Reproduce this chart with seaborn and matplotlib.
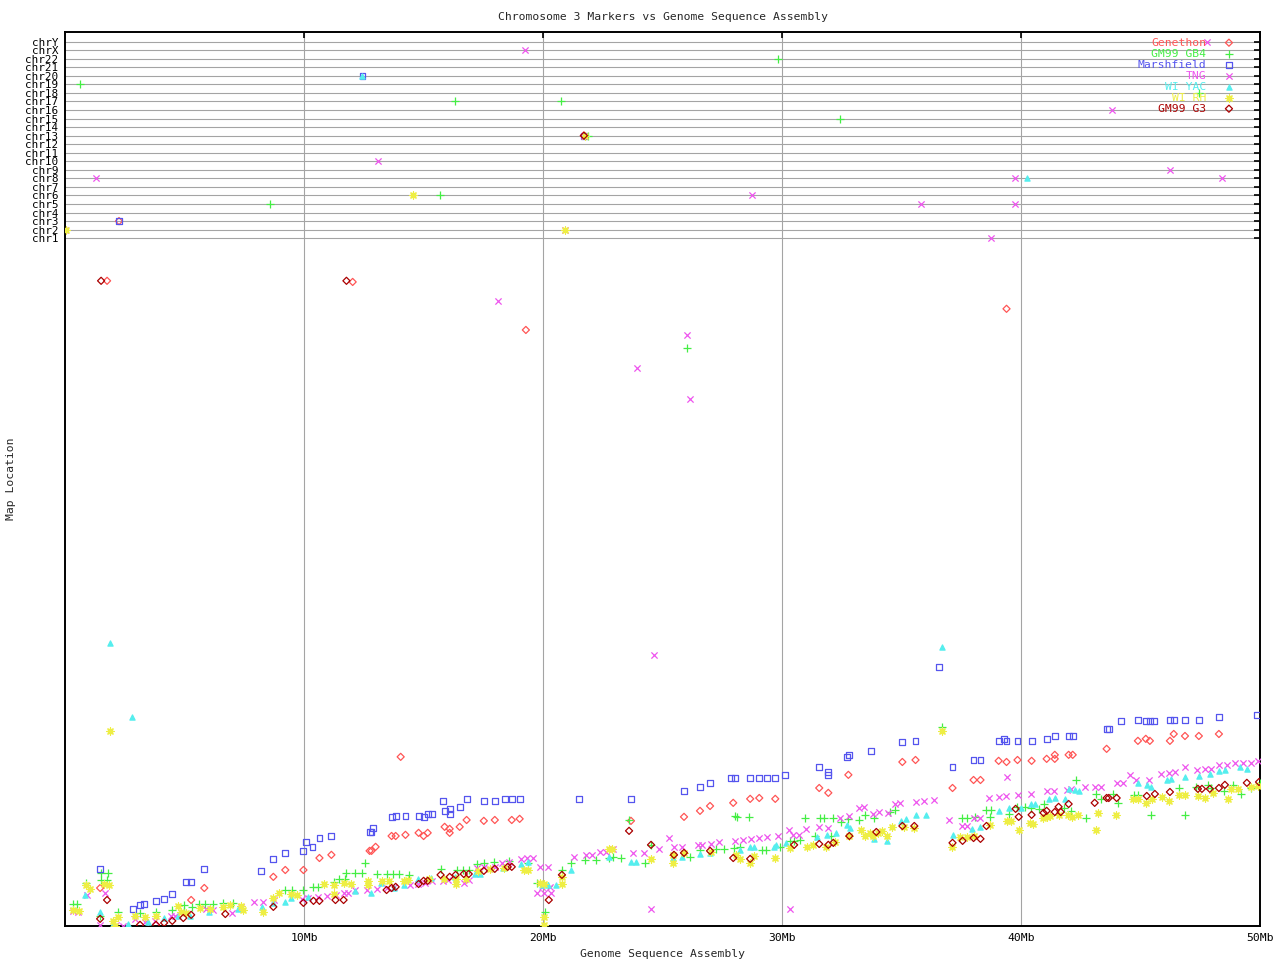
import matplotlib
matplotlib.use("Agg")
import matplotlib.pyplot as plt
import seaborn as sns
import pandas as pd

# ---------------- data ----------------
chrom_rows = ["chr1", "chr2", "chr3", "chr4", "chr5", "chr6", "chr7", "chr8", "chr9", "chr10",
              "chr11", "chr12", "chr13", "chr14", "chr15", "chr16", "chr17", "chr18", "chr19",
              "chr20", "chr21", "chr22", "chrX", "chrY"]
x_ticks_mb = [10, 20, 30, 40, 50]
x_tick_labels = ["10Mb", "20Mb", "30Mb", "40Mb", "50Mb"]
series_names = ["Genethon", "GM99 GB4", "Marshfield", "TNG", "WI YAC", "WI RH", "GM99 G3"]

# (sequence position Mb, chr3 map location)
genethon = [(1.45, 13.3), (5.81, 13.3), (5.26, 9.1), (8.70, 17.2), (9.20, 19.6), (9.96, 19.6),
            (10.63, 23.8), (11.13, 24.9), (12.73, 26.3), (12.81, 26.3), (12.98, 27.7), (13.65, 31.5),
            (13.82, 31.5), (14.23, 31.9), (14.78, 32.6), (14.99, 31.5), (15.16, 32.6), (15.87, 34.7),
            (16.08, 34.0), (16.08, 32.6), (16.50, 34.7), (16.79, 37.1), (17.51, 36.8), (17.97, 37.1),
            (18.68, 37.1), (19.01, 37.5), (23.67, 36.8), (25.89, 38.2), (26.56, 40.3), (26.98, 42.0),
            (27.95, 43.1), (28.66, 44.5), (29.04, 44.8), (29.71, 44.5), (31.55, 48.3), (31.93, 46.6),
            (32.77, 52.9), (35.03, 57.4), (35.58, 58.1), (37.13, 48.3), (38.01, 51.1), (38.30, 51.1),
            (39.06, 57.8), (39.39, 57.4), (39.85, 58.1), (40.44, 57.8), (41.07, 58.5), (41.41, 59.9),
            (41.41, 58.5), (41.99, 59.9), (42.16, 59.9), (43.58, 62.0), (44.89, 64.8), (45.22, 65.5),
            (45.39, 64.8), (46.23, 64.8), (46.39, 67.2), (46.86, 66.5), (47.44, 66.5), (48.28, 67.2),
            (14.03, 59.2), (39.39, 216.0), (1.74, 225.8), (12.02, 225.4), (19.27, 208.6)]

gm99_gb4 = [(0.31, 7.7), (0.48, 7.7), (0.86, 15.1), (1.49, 18.6), (1.78, 18.6), (1.49, 16.1),
            (1.74, 16.1), (1.45, 3.5), (2.20, 4.9), (3.12, 4.6), (3.79, 4.9), (4.47, 5.6), (4.97, 7.4),
            (4.97, 5.3), (5.30, 6.7), (5.60, 7.7), (5.85, 7.7), (6.18, 7.7), (6.60, 8.1), (7.02, 8.1),
            (9.20, 12.6), (9.50, 12.6), (9.96, 12.6), (10.38, 13.7), (10.55, 13.7), (11.22, 15.4),
            (11.43, 16.5), (11.68, 16.5), (11.76, 18.6), (12.10, 18.6), (12.43, 18.6), (12.52, 22.1),
            (13.06, 18.2), (13.44, 18.2), (13.69, 18.2), (13.94, 18.2), (14.36, 17.9), (15.70, 20.0),
            (16.37, 19.6), (16.62, 19.6), (16.88, 19.6), (17.21, 21.7), (17.51, 22.1), (17.92, 22.4),
            (18.55, 22.8), (19.35, 22.1), (19.73, 15.1), (20.06, 4.9), (20.19, 14.0), (20.78, 19.6),
            (21.15, 22.1), (21.74, 23.1), (22.20, 23.1), (22.75, 23.8), (22.92, 24.2), (23.25, 23.8),
            (23.59, 37.1), (24.26, 22.1), (24.51, 28.4), (26.14, 24.2), (26.56, 26.6), (27.23, 27.0),
            (27.55, 27.0), (27.99, 27.3), (28.24, 27.7), (28.03, 38.5), (28.11, 38.2), (28.62, 38.2),
            (29.16, 26.6), (29.33, 26.6), (29.92, 27.7), (30.34, 29.8), (30.50, 29.8), (30.75, 30.1),
            (30.96, 37.8), (31.38, 31.5), (31.59, 37.8), (31.76, 37.8), (32.05, 31.5), (32.14, 37.8),
            (32.47, 36.4), (32.77, 37.5), (33.23, 37.1), (33.48, 38.9), (33.86, 37.8), (34.53, 39.9),
            (34.74, 40.6), (36.67, 69.7), (37.51, 37.8), (37.72, 37.8), (38.09, 38.2), (38.55, 40.6),
            (38.72, 40.6), (38.68, 38.2), (39.48, 39.2), (39.81, 41.7), (40.15, 41.7), (40.40, 41.3),
            (40.73, 41.0), (40.94, 42.7), (41.78, 41.3), (42.08, 40.3), (42.28, 51.1), (42.70, 37.8),
            (43.12, 46.2), (43.33, 44.5), (43.84, 46.2), (44.05, 43.1), (44.72, 45.9), (44.89, 45.9),
            (45.43, 38.9), (46.60, 48.3), (46.86, 38.9), (47.32, 48.7), (47.82, 49.4), (47.95, 48.3),
            (48.49, 47.3), (48.87, 49.4), (49.20, 46.2), (49.62, 48.3), (49.98, 50.1), (26.02, 202.3)]

marshfield = [(1.45, 20.0), (5.81, 20.0), (5.05, 15.4), (5.26, 15.4), (4.47, 11.2), (4.13, 9.5),
              (3.79, 8.8), (3.12, 7.4), (3.29, 7.7), (2.83, 6.0), (8.20, 19.3), (8.70, 23.5),
              (9.20, 25.6), (9.96, 26.3), (10.08, 29.4), (10.34, 27.7), (10.63, 30.8), (11.13, 31.5),
              (12.73, 32.9), (12.89, 34.3), (12.81, 32.9), (13.65, 38.2), (13.82, 38.5), (14.23, 38.5),
              (14.78, 38.5), (14.99, 38.2), (15.16, 39.2), (15.33, 39.2), (15.79, 43.8), (15.87, 40.3),
              (16.08, 41.0), (16.08, 39.2), (16.50, 41.7), (16.79, 44.5), (17.51, 43.8), (17.97, 43.8),
              (18.39, 44.5), (18.68, 44.5), (19.01, 44.5), (21.49, 44.5), (23.67, 44.5), (25.89, 47.3),
              (26.56, 48.7), (26.98, 50.1), (27.86, 51.8), (28.03, 51.8), (28.66, 51.8), (29.04, 51.8),
              (29.37, 51.8), (29.71, 51.8), (30.13, 52.9), (31.55, 55.7), (31.93, 53.9), (31.93, 52.9),
              (32.73, 59.2), (32.81, 59.9), (33.73, 61.3), (35.03, 64.4), (35.58, 64.8), (37.13, 55.7),
              (38.01, 58.1), (38.30, 58.1), (39.06, 64.8), (39.27, 65.5), (39.39, 64.8), (39.85, 64.8),
              (40.44, 64.8), (41.07, 65.5), (41.41, 66.5), (41.99, 66.5), (42.16, 66.5), (43.58, 69.0),
              (43.67, 69.0), (44.17, 71.8), (44.89, 72.1), (45.22, 71.8), (45.39, 71.8), (45.56, 71.8),
              (46.23, 72.1), (46.39, 72.1), (46.86, 72.1), (47.44, 72.1), (48.28, 73.2), (49.87, 73.9),
              (36.58, 90.7)]

tng = [(0.31, 5.3), (0.52, 4.9), (0.90, 10.9), (1.66, 11.6), (1.45, 0.4), (2.12, 0.4), (2.41, 0.1),
       (2.91, 2.5), (3.33, 1.4), (3.75, 1.8), (4.42, 3.5), (4.59, 3.5), (5.89, 6.0), (6.18, 5.6),
       (6.98, 4.6), (7.36, 6.7), (7.90, 8.4), (8.28, 8.4), (8.74, 9.1), (9.92, 9.5), (10.17, 9.8),
       (10.55, 10.2), (10.96, 10.5), (11.34, 10.9), (11.64, 11.6), (11.84, 11.6), (12.10, 12.6),
       (12.60, 12.6), (13.02, 13.0), (13.44, 13.3), (13.73, 13.7), (14.44, 14.4), (14.74, 14.7),
       (15.03, 15.1), (15.33, 15.8), (15.79, 15.8), (16.00, 16.1), (16.67, 15.1), (16.88, 16.1),
       (17.21, 20.3), (17.51, 20.7), (17.72, 20.0), (17.97, 20.7), (18.26, 22.1), (18.55, 22.4),
       (19.06, 23.5), (19.31, 23.8), (19.56, 23.8), (19.85, 20.7), (20.19, 20.7), (19.73, 11.6),
       (20.02, 11.6), (20.31, 11.6), (19.94, 13.7), (20.27, 13.7), (21.28, 24.2), (21.78, 24.9),
       (22.03, 24.9), (22.37, 25.9), (22.62, 25.9), (22.92, 27.0), (23.75, 25.6), (24.21, 25.6),
       (24.84, 27.0), (25.26, 30.8), (25.47, 27.7), (25.81, 27.7), (26.48, 28.4), (26.65, 28.4),
       (27.02, 28.7), (27.36, 29.4), (28.03, 29.8), (28.36, 30.1), (28.70, 30.5), (29.04, 30.8),
       (29.37, 31.2), (29.83, 31.5), (30.29, 33.6), (30.46, 31.9), (30.71, 31.9), (31.00, 34.0),
       (31.55, 34.7), (31.93, 34.3), (32.43, 37.8), (32.81, 38.5), (33.23, 41.3), (33.44, 41.7),
       (33.82, 39.2), (34.07, 39.9), (34.44, 39.6), (34.74, 42.7), (34.95, 43.1), (35.58, 43.4),
       (35.95, 43.8), (36.37, 44.1), (37.00, 37.1), (37.51, 35.0), (37.72, 35.0), (38.01, 37.8),
       (38.30, 37.8), (38.64, 44.8), (39.06, 45.2), (39.35, 45.5), (39.43, 52.2), (39.85, 45.9),
       (40.40, 46.2), (41.07, 47.3), (41.36, 47.3), (41.91, 47.6), (42.08, 48.0), (42.66, 48.7),
       (43.08, 48.7), (43.33, 48.7), (44.00, 50.1), (44.26, 50.1), (44.55, 52.9), (44.80, 51.1),
       (45.34, 51.1), (45.85, 53.2), (46.18, 53.6), (46.44, 53.9), (46.86, 55.7), (47.36, 54.6),
       (47.69, 55.0), (47.95, 55.0), (48.28, 56.4), (48.62, 56.4), (48.95, 57.1), (49.29, 57.1),
       (49.62, 57.1), (49.92, 57.8), (18.09, 218.8), (23.93, 195.3), (26.02, 206.9), (26.14, 184.5),
       (24.63, 94.9), (24.51, 6.0), (30.34, 6.0)]

wi_yac = [(0.82, 10.9), (1.45, 4.9), (1.99, 0.7), (2.62, 0.7), (3.46, 1.4), (4.13, 2.8), (4.72, 3.5),
          (5.22, 3.5), (6.02, 4.9), (7.23, 6.0), (8.24, 6.7), (8.70, 8.1), (9.20, 8.4), (9.45, 9.8),
          (10.17, 10.2), (12.10, 12.3), (12.77, 11.6), (13.19, 15.1), (13.73, 13.3), (14.19, 14.4),
          (14.74, 16.5), (15.28, 16.8), (16.29, 17.2), (17.13, 18.2), (17.34, 18.2), (18.30, 20.3),
          (19.06, 21.7), (19.35, 22.4), (19.94, 14.4), (20.19, 14.4), (20.52, 14.4), (21.15, 19.6),
          (22.75, 24.2), (23.67, 22.4), (23.88, 22.4), (25.43, 23.8), (25.81, 24.2), (26.56, 25.2),
          (26.98, 25.6), (28.24, 26.6), (28.66, 27.7), (28.83, 27.7), (29.67, 27.7), (29.75, 28.4),
          (30.17, 29.1), (31.47, 31.2), (31.89, 31.9), (32.26, 32.6), (32.73, 35.4), (32.85, 34.3),
          (33.86, 30.5), (34.40, 29.8), (34.99, 36.8), (35.20, 37.5), (35.58, 38.9), (36.00, 38.9),
          (37.17, 31.9), (37.93, 34.0), (38.30, 34.7), (39.06, 40.3), (39.48, 41.3), (39.98, 41.3),
          (40.40, 42.7), (40.57, 42.7), (41.15, 44.5), (41.41, 44.8), (41.82, 44.5), (41.99, 48.0),
          (42.24, 47.6), (42.41, 47.3), (44.89, 50.1), (45.26, 49.4), (45.43, 48.7), (46.10, 51.1),
          (46.27, 51.5), (46.86, 52.2), (47.44, 52.5), (47.90, 53.2), (48.28, 54.3), (48.53, 54.6),
          (49.16, 55.7), (49.45, 55.0), (1.87, 99.1), (2.79, 73.2), (36.71, 97.7)]

wi_rh = [(0.31, 5.6), (0.57, 5.3), (0.86, 14.4), (1.03, 13.0), (1.61, 14.7), (1.82, 14.4), (1.99, 1.8),
         (2.20, 3.2), (2.08, 0.0), (2.91, 3.5), (3.33, 3.2), (3.79, 3.5), (4.72, 7.0), (4.84, 4.9),
         (5.05, 4.6), (5.64, 6.3), (6.06, 6.0), (6.60, 6.7), (6.90, 7.4), (7.36, 7.0), (7.44, 5.6),
         (8.28, 4.9), (8.70, 9.8), (8.95, 11.6), (9.45, 11.2), (9.67, 10.9), (10.80, 14.7), (11.22, 14.4),
         (11.64, 15.1), (11.97, 14.7), (11.26, 11.2), (12.68, 15.8), (12.68, 14.4), (13.23, 15.8),
         (13.56, 15.8), (14.19, 15.8), (14.32, 16.1), (15.20, 16.5), (15.83, 16.5), (16.33, 16.5),
         (16.33, 14.7), (16.75, 16.5), (17.25, 19.3), (17.76, 20.0), (18.34, 20.3), (19.18, 19.6),
         (19.35, 19.6), (19.85, 15.1), (20.02, 14.7), (20.02, 3.2), (20.02, 0.4), (20.78, 17.2),
         (20.78, 14.7), (22.75, 27.0), (22.87, 27.0), (24.51, 23.5), (25.43, 24.9), (25.43, 22.1),
         (25.89, 25.6), (27.02, 25.9), (28.07, 24.9), (28.24, 23.5), (28.66, 22.1), (28.83, 24.5),
         (29.71, 23.8), (30.34, 27.3), (31.05, 27.7), (31.30, 28.4), (31.85, 27.7), (32.22, 29.4),
         (32.81, 31.5), (33.31, 33.6), (33.48, 31.5), (33.69, 32.6), (33.82, 31.5), (33.99, 32.6),
         (34.19, 33.3), (34.40, 31.5), (34.61, 34.7), (35.11, 34.7), (35.53, 34.3), (36.71, 68.3),
         (37.09, 27.7), (37.46, 31.2), (37.72, 31.2), (38.01, 31.5), (38.68, 35.4), (39.39, 36.8),
         (39.56, 36.8), (39.90, 33.6), (40.36, 36.1), (40.48, 35.7), (40.90, 37.8), (41.07, 38.2),
         (41.19, 38.5), (41.57, 38.9), (41.95, 38.9), (42.12, 38.2), (42.37, 38.9), (43.12, 33.6),
         (43.21, 39.6), (43.96, 38.9), (44.68, 44.5), (44.89, 44.5), (45.22, 43.1), (45.47, 44.5),
         (45.89, 45.2), (46.18, 43.8), (46.60, 45.9), (46.86, 45.9), (47.40, 45.5), (47.69, 44.8),
         (48.03, 46.6), (48.66, 44.5), (48.78, 48.0), (49.08, 48.0), (49.62, 48.7), (49.92, 49.0),
         (1.87, 68.3)]

gm99_g3 = [(1.45, 2.5), (1.74, 9.1), (3.12, 0.4), (3.79, 0.4), (4.13, 1.1), (4.47, 1.8), (4.93, 2.8),
           (5.26, 3.9), (6.69, 4.2), (8.70, 6.7), (9.96, 8.1), (10.38, 8.8), (10.63, 8.8), (11.30, 9.1),
           (11.64, 9.1), (13.44, 12.6), (13.65, 13.3), (13.82, 13.7), (14.78, 14.7), (14.99, 15.8),
           (15.16, 15.8), (15.70, 17.9), (16.08, 17.2), (16.33, 17.9), (16.67, 18.2), (16.88, 18.2),
           (17.51, 19.3), (17.97, 20.0), (18.51, 20.7), (18.68, 20.7), (20.23, 9.1), (20.78, 17.9),
           (23.59, 33.3), (24.51, 28.4), (25.47, 24.9), (25.89, 25.6), (26.98, 26.3), (27.95, 23.8),
           (28.66, 23.5), (30.50, 28.4), (31.55, 28.7), (31.93, 28.4), (32.14, 29.1), (32.81, 31.5),
           (33.94, 32.9), (35.03, 35.0), (35.53, 35.0), (37.13, 29.1), (37.55, 29.8), (38.01, 30.8),
           (38.30, 30.5), (38.55, 35.0), (39.77, 41.0), (39.90, 38.2), (40.44, 38.9), (40.94, 39.6),
           (41.07, 40.3), (41.41, 39.9), (41.57, 41.7), (41.66, 39.9), (41.99, 42.7), (43.08, 43.1),
           (43.58, 44.8), (43.67, 44.8), (44.00, 44.8), (45.26, 45.5), (45.60, 46.2), (46.23, 46.9),
           (47.40, 48.0), (47.57, 48.0), (47.90, 48.0), (48.28, 48.3), (48.53, 49.4), (49.45, 50.1),
           (49.96, 50.4), (1.49, 225.8), (11.76, 225.8)]

# markers placed on other chromosomes: (sequence position Mb, chromosome)
genethon_other = [(2.24, "chr3"), (21.70, "chr13")]
gm99_gb4_other = [(0.61, "chr19"), (16.29, "chr17"), (20.73, "chr17"), (8.57, "chr5"), (15.66, "chr6"),
                  (32.41, "chr15"), (29.83, "chr22"), (47.44, "chr18"), (21.87, "chr13")]
marshfield_other = [(12.43, "chr20"), (2.24, "chr3"), (21.70, "chr13")]
tng_other = [(1.28, "chr8"), (13.10, "chr10"), (28.74, "chr6"), (0.0, "chr2"), (20.92, "chr2"),
             (21.70, "chr13"), (19.23, "chrX"), (35.83, "chr5"), (38.76, "chr1"), (39.73, "chr8"),
             (39.73, "chr5"), (43.81, "chr16"), (46.23, "chr9"), (48.41, "chr8"), (47.78, "chrY")]
wi_yac_other = [(12.43, "chr20"), (40.23, "chr8")]
wi_rh_other = [(14.53, "chr6"), (0.02, "chr2"), (20.92, "chr2"), (21.74, "chr13")]
gm99_g3_other = [(21.70, "chr13")]

# ---------------- styling ----------------
ROW_BASE, ROW_STEP = 240.7, 2.992
row_pos = {c: ROW_BASE + ROW_STEP * i for i, c in enumerate(chrom_rows)}

styles = {
    "Genethon":   dict(color="#ff5555", marker="D", s=13, hollow=True),
    "GM99 GB4":   dict(color="#44ee44", marker="+", s=30, hollow=False),
    "Marshfield": dict(color="#5555ee", marker="s", s=18, hollow=True),
    "TNG":        dict(color="#ee55ee", marker="x", s=20, hollow=False),
    "WI YAC":     dict(color="#55eeee", marker="^", s=14, hollow=False),
    "WI RH":      dict(color="#eeee44", marker=(8, 2, 0), s=26, hollow=False),
    "GM99 G3":    dict(color="#aa0000", marker="D", s=13, hollow=True),
}
main_data = {"Genethon": genethon, "GM99 GB4": gm99_gb4, "Marshfield": marshfield, "TNG": tng,
             "WI YAC": wi_yac, "WI RH": wi_rh, "GM99 G3": gm99_g3}
other_data = {"Genethon": genethon_other, "GM99 GB4": gm99_gb4_other, "Marshfield": marshfield_other,
              "TNG": tng_other, "WI YAC": wi_yac_other, "WI RH": wi_rh_other, "GM99 G3": gm99_g3_other}

rows = []
for name in series_names:
    for mb, cm in main_data[name]:
        rows.append((name, mb, cm))
    for mb, ch in other_data[name]:
        rows.append((name, mb, row_pos[ch]))
df = pd.DataFrame(rows, columns=["series", "mb", "loc"])

sns.set_style("white")
plt.rcParams["font.family"] = ["DejaVu Sans Mono"]
FS = 8.2
LW = 0.9

fig = plt.figure(figsize=(12.8, 9.6), dpi=100)
ax = fig.add_axes([0.05117, 0.03542, 0.93320, 0.93073])

def draw(name, data, target_ax, **extra):
    st = styles[name]
    kw = dict(marker=st["marker"], s=st["s"], linewidth=LW)
    if st["hollow"]:
        kw.update(color=st["color"], facecolor="none", edgecolor=st["color"])
    else:
        kw.update(color=st["color"], edgecolor=None)
    kw.update(extra)
    sns.scatterplot(data=data, x="mb", y="loc", ax=target_ax, legend=False, **kw)

for name in series_names:
    draw(name, df[df["series"] == name], ax, zorder=3)

ax.set_xlim(0, 50)
ax.set_ylim(0, 312.7)
ax.set_xticks(x_ticks_mb)
ax.set_xticklabels(x_tick_labels, fontsize=FS)
ax.set_yticks([row_pos[c] for c in chrom_rows])
ax.set_yticklabels(chrom_rows, fontsize=7.9)
ax.grid(True, color="#a4a4a4", linewidth=0.8, zorder=1)
ax.set_axisbelow(True)
ax.tick_params(direction="in", length=4.5, width=1.2, top=True, right=True,
               labeltop=False, labelright=False, colors="black", pad=5)
for sp in ax.spines.values():
    sp.set_visible(True)
    sp.set_color("black")
    sp.set_linewidth(1.4)

ax.set_title("Chromosome 3 Markers vs Genome Sequence Assembly", fontsize=FS, pad=9)
ax.set_xlabel("Genome Sequence Assembly", fontsize=FS)
ax.set_ylabel("Map Location", fontsize=FS)
ax.xaxis.set_label_coords(0.5, -0.0257)
ax.xaxis.label.set_va("top")
ax.yaxis.set_label_coords(-0.0414, 0.5)

# legend (right-aligned labels, marker at right)
for i, name in enumerate(series_names):
    st = styles[name]
    yf = (926 - (42.7 + 11 * i)) / 893.5
    ax.text(0.9548, yf, name, transform=ax.transAxes, ha="right", va="center",
            color=st["color"], fontsize=FS, zorder=5)
    kw = dict(marker=st["marker"], s=st["s"], linewidths=LW, transform=ax.transAxes,
              clip_on=False, zorder=5)
    if st["hollow"]:
        kw.update(facecolors="none", edgecolors=st["color"])
    else:
        kw.update(c=st["color"])
    ax.scatter([0.974], [yf], **kw)

fig.savefig("out.png", dpi=100)
